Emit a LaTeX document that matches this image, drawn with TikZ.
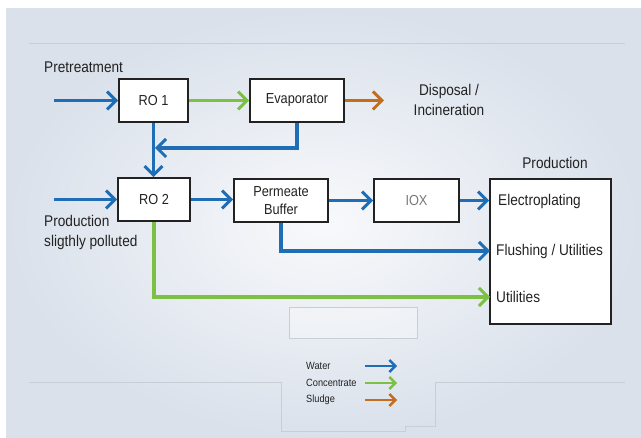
\documentclass[tikz,border=0pt]{standalone}
\usepackage{fontspec}
\setmainfont{Liberation Sans}[FakeStretch=0.88]
\usetikzlibrary{arrows.meta}
\definecolor{wblue}{HTML}{1F6DB5}
\definecolor{cgreen}{HTML}{7CC143}
\definecolor{sorange}{HTML}{C46D1C}
\definecolor{txt}{HTML}{222222}
\definecolor{faint}{HTML}{C9CED6}
\definecolor{bgin}{HTML}{F8F9FB}
\definecolor{bgout}{HTML}{DAE1EB}
\definecolor{ioxtxt}{HTML}{787878}
\tikzset{
  box/.style={draw=txt, line width=1.6pt, fill=white, inner sep=0pt, text=txt,
              font=\fontsize{14.5}{17}\selectfont, align=center},
  lbl/.style={text=txt, inner sep=0pt, font=\fontsize{15.5}{20}\selectfont},
  leg/.style={text=txt, inner sep=0pt, anchor=west, font=\fontsize{10.5}{12}\selectfont},
  flow/.style={line width=3.2pt, -{Straight Barb[length=9pt,width=18pt,line width=3pt]}},
  water/.style={flow, draw=wblue},
  conc/.style={flow, draw=cgreen},
  sludge/.style={flow, draw=sorange},
  legflow/.style={line width=2.4pt, -{Straight Barb[length=6pt,width=12pt,line width=2.4pt]}},
}
\begin{document}
\begin{tikzpicture}[x=1pt,y=-1pt]
\useasboundingbox (0,0) rectangle (641,438);
\fill[white] (0,0) rectangle (641,438);
\shade[inner color=bgin, outer color=bgout] (6,9) rectangle (641,438);
% faint frame lines
\draw[faint, line width=0.8pt] (29,43) -- (625,43);
\draw[faint, line width=0.8pt] (29,382) -- (281,382) -- (281,431) -- (405,431) -- (405,426) -- (435,426) -- (435,382) -- (625,382);
\draw[faint, line width=0.8pt, fill=white, fill opacity=0.3] (289,307) rectangle (417,338);
% boxes
\node[box, minimum width=69pt, minimum height=43pt] (ro1) at (153.5,100.5) {RO 1};
\node[box, minimum width=94pt, minimum height=43pt] (evap) at (297,100.5) {Evaporator};
\node[box, minimum width=72pt, minimum height=43pt] (ro2) at (154,199.5) {RO 2};
\node[box, minimum width=94pt, minimum height=43pt] (buf) at (281,200.5) {Permeate\\[1pt]Buffer};
\node[box, minimum width=85pt, minimum height=43pt, text=ioxtxt] (iox) at (416.5,200.5) {IOX};
\node[box, minimum width=121pt, minimum height=145pt] (prod) at (550.5,251.5) {};
% labels
\node[lbl, anchor=west] (pre) at (44,67) {Pretreatment};
\node[lbl, anchor=west, align=left] (prodin) at (44,232.5) {Production\\sligthly polluted};
\node[lbl, align=center] (disp) at (449,100) {Disposal /\\Incineration};
\node[lbl] (prodlbl) at (555,163) {Production};
\node[lbl, anchor=west] (elec) at (498,201) {Electroplating};
\node[lbl, anchor=west] (flush) at (496,251) {Flushing / Utilities};
\node[lbl, anchor=west] (util) at (496,297) {Utilities};
% coordinates
\coordinate (in1) at (54,100.5);
\coordinate (in2) at (54,199.5);
\coordinate (out1) at (384,100.5);
\coordinate (ret) at (155,148);
\coordinate (pf) at (490,251);
\coordinate (pu) at (490,297);
% connectors
\draw[water] (in1) -- (ro1.west);
\draw[conc] (ro1.east) -- (evap.west);
\draw[sludge] (evap.east) -- (out1);
\draw[water] (evap.south) |- (ret);
\draw[water] (ro1.south) -- (ro1.south |- ro2.north);
\draw[water] (in2) -- (ro2.west);
\draw[water] (ro2.east) -- (ro2.east -| buf.west);
\draw[water] (buf.east) -- (iox.west);
\draw[water] (iox.east) -- (iox.east -| prod.west);
\draw[water] (buf.south) |- (pf);
\draw[conc] (ro2.south) |- (pu);
% legend
\node[leg] (lw) at (306,366) {Water};
\node[leg] (lc) at (306,383) {Concentrate};
\node[leg] (ls) at (306,400) {Sludge};
\coordinate (lw1) at (365,366); \coordinate (lw2) at (397,366);
\coordinate (lc1) at (365,383); \coordinate (lc2) at (397,383);
\coordinate (ls1) at (365,400); \coordinate (ls2) at (397,400);
\draw[legflow, draw=wblue] (lw1) -- (lw2);
\draw[legflow, draw=cgreen] (lc1) -- (lc2);
\draw[legflow, draw=sorange] (ls1) -- (ls2);
\end{tikzpicture}
\end{document}
